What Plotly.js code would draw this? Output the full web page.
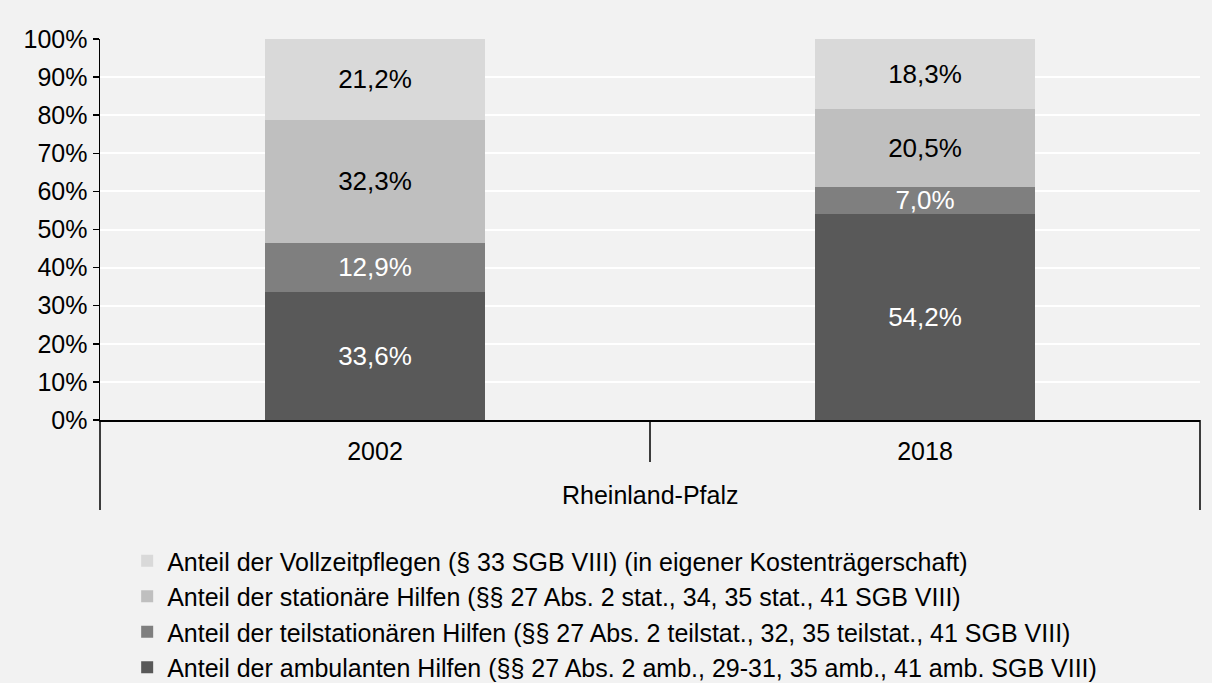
<!DOCTYPE html>
<html>
<head>
<meta charset="utf-8">
<script src="https://cdn.plot.ly/plotly-3.0.1.min.js"></script>
<style>html,body{margin:0;padding:0;background:#f2f2f2;}#chart{width:1212px;height:683px;}</style>
</head>
<body>
<div id="chart"></div>
<script>
const years = ["2002", "2018"];
const region = "Rheinland-Pfalz";
const ambulant = [33.6, 54.2];
const teilstationaer = [12.9, 7.0];
const stationaer = [32.3, 20.5];
const vollzeit = [21.2, 18.3];
const seriesNames = [
  "Anteil der ambulanten Hilfen (§§ 27 Abs. 2 amb., 29-31, 35 amb., 41 amb. SGB VIII)",
  "Anteil der teilstationären Hilfen (§§ 27 Abs. 2 teilstat., 32, 35 teilstat., 41 SGB VIII)",
  "Anteil der stationäre Hilfen (§§ 27 Abs. 2 stat., 34, 35 stat., 41 SGB VIII)",
  "Anteil der Vollzeitpflegen (§ 33 SGB VIII) (in eigener Kostenträgerschaft)"
];
const yTicks = [0,10,20,30,40,50,60,70,80,90,100];

const colors = ["#595959", "#7f7f7f", "#bfbfbf", "#d9d9d9"];
const textColors = ["#ffffff", "#ffffff", "#000000", "#000000"];
const series = [ambulant, teilstationaer, stationaer, vollzeit];
const fmt = v => v.toFixed(1).replace('.', ',') + '%';

const font = "Liberation Sans, Arial, sans-serif";
const traces = series.map((vals, i) => ({
  type: 'bar',
  x: years,
  y: vals,
  name: seriesNames[i],
  legendgroup: 'g' + i,
  marker: {color: colors[i], line: {width: 0}},
  text: vals.map(fmt),
  textposition: 'inside',
  insidetextanchor: 'middle',
  constraintext: 'none',
  textfont: {family: font, size: 26, color: textColors[i]},
  hoverinfo: 'skip'
}));

const plotTop = 39, plotBottom = 420;
const ph = plotBottom - plotTop;
const py = y => (plotBottom - y) / ph;

const layout = {
  width: 1212, height: 683,
  paper_bgcolor: '#f2f2f2', plot_bgcolor: '#f2f2f2',
  margin: {l: 100, r: 12, t: plotTop, b: 683 - plotBottom, pad: 0, autoexpand: false},
  barmode: 'stack',
  bargap: 0.6,
  font: {family: font, size: 25, color: '#000'},
  showlegend: true,
  legend: {
    orientation: 'v', traceorder: 'reversed',
    x: 0.0247, xanchor: 'left', y: py(538), yanchor: 'top',
    bgcolor: 'rgba(0,0,0,0)', font: {family: font, size: 25, color: '#000'},
    tracegroupgap: 4, itemclick: false
  },
  xaxis: {
    type: 'category', range: [-0.5, 1.5],
    showline: true, linecolor: '#000', linewidth: 1.5,
    ticks: '', showgrid: false, fixedrange: true, ticklabelstandoff: 8,
    tickfont: {family: font, size: 25, color: '#000'}
  },
  yaxis: {
    range: [0, 100], tickvals: yTicks, ticktext: yTicks.map(v => v + '%'),
    showline: true, linecolor: '#000', linewidth: 1.5,
    ticks: 'outside', ticklen: 6, tickcolor: '#000', tickwidth: 1.5,
    showgrid: true, gridcolor: '#ffffff', gridwidth: 2,
    zeroline: false, fixedrange: true,
    tickfont: {family: font, size: 25, color: '#000'}
  },
  annotations: [{
    xref: 'paper', yref: 'paper', x: 0.5, y: py(495),
    xanchor: 'center', yanchor: 'middle', showarrow: false,
    text: region, font: {family: font, size: 25, color: '#000'}
  }],
  shapes: [
    {type: 'line', xref: 'paper', yref: 'paper', x0: 0, x1: 0, y0: 0, y1: py(510), line: {color: '#000', width: 1.5}},
    {type: 'line', xref: 'paper', yref: 'paper', x0: 0.5, x1: 0.5, y0: 0, y1: py(462), line: {color: '#000', width: 1.5}},
    {type: 'line', xref: 'paper', yref: 'paper', x0: 1, x1: 1, y0: 0, y1: py(510), line: {color: '#000', width: 1.5}}
  ]
};

Plotly.newPlot('chart', traces, layout, {displayModeBar: false, staticPlot: true});
</script>
</body>
</html>
